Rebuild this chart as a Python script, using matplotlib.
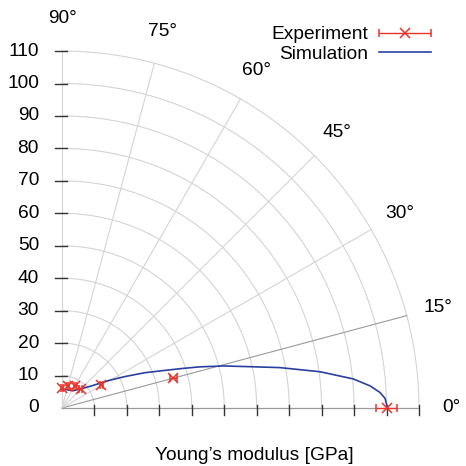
import numpy as np
import matplotlib
matplotlib.use("Agg")
import matplotlib.pyplot as plt
from matplotlib.container import ErrorbarContainer
from matplotlib.legend_handler import HandlerErrorbar

plt.rcParams['font.family'] = ['Liberation Sans', 'DejaVu Sans']

# ---- data ----
sim_theta_deg = [90, 81.8, 57.5, 43.2, 36.9, 30.7, 26.6, 23.1, 19.7, 18.1, 16.6,
                 14.6, 12.4, 10.5, 8.0, 5.7, 4.1, 2.8, 1.7, 0]
sim_r = [5.8, 5.8, 6.3, 8.9, 11.3, 16.5, 21.6, 27.7, 34.7, 39.3, 44.4,
         51.4, 59.3, 68.3, 80.3, 90.2, 95.2, 98.1, 99.6, 100.3]

exp_theta_deg = [0, 15, 30, 45, 60, 75, 90]
exp_r = [100.0, 35.5, 14.0, 8.1, 8.0, 7.0, 6.3]
exp_err = [3.2, 1.0, 0.4, 0.4, 0.4, 0.4, 0.4]

radial_ticks = [0, 10, 20, 30, 40, 50, 60, 70, 80, 90, 100, 110]
angle_ticks = [0, 15, 30, 45, 60, 75, 90]
xlabel = "Young\u2019s modulus [GPa]"

# ---- figure ----
W = 466
FS = 13.8
fig = plt.figure(figsize=(W / 100, W / 100), dpi=100)
ax = fig.add_axes([0, 0, 1, 1])
s = 3.245          # px per unit
ox, oy = 62, 408   # origin in px
ax.set_xlim(-ox / s, (W - ox) / s)
ax.set_ylim((oy - W) / s, oy / s)
ax.axis('off')

rmax = 110
grid_c = '#d4d4d4'
# arcs
t = np.linspace(0, np.pi / 2, 200)
for r in radial_ticks[1:]:
    ax.plot(r * np.cos(t), r * np.sin(t), color=grid_c, lw=0.8, zorder=1)
# spokes
for a in angle_ticks[1:-1]:
    ar = np.deg2rad(a)
    c = '#9a9a9a' if a == 15 else grid_c
    ax.plot([0, rmax * np.cos(ar)], [0, rmax * np.sin(ar)], color=c, lw=0.8, zorder=1)
# axes lines
ax.plot([0, 0], [0, rmax], color=grid_c, lw=0.8, zorder=1)
ax.plot([0, rmax], [0, 0], color='#9a9a9a', lw=0.9, zorder=1)

# ticks
tick_c = '#333333'
for r in radial_ticks[1:]:
    ax.plot([-7 / s, 5 / s], [r, r], color=tick_c, lw=1.0, zorder=2)
    ax.plot([r, r], [3 / s, -7 / s], color=tick_c, lw=1.0, zorder=2)
for r in radial_ticks:
    ax.text(-23 / s, r, str(r), ha='right', va='center', fontsize=FS)

# angle labels
for a in angle_ticks:
    ar = np.deg2rad(a)
    ax.text(120 * np.cos(ar), 120 * np.sin(ar), f"{a}\u00b0",
            ha='center', va='center', fontsize=FS)

# data
st = np.deg2rad(sim_theta_deg)
sr = np.array(sim_r)
sim_line, = ax.plot(sr * np.cos(st), sr * np.sin(st), color='#2a3fa0', lw=1.2,
                    zorder=4, label='Simulation')

et = np.deg2rad(exp_theta_deg)
er = np.array(exp_r)
eb = ax.errorbar(er * np.cos(et), er * np.sin(et), xerr=exp_err, fmt='x',
                 color='#e8352b', ecolor='#e8352b', mew=1.1, ms=7.5, elinewidth=1.0,
                 capsize=3, capthick=1.0, zorder=5, label='Experiment')

ax.text((254 - ox) / s, (oy - 456) / s, xlabel, ha='center', va='center', fontsize=FS)

HL = 2.7
leg = ax.legend(handles=[eb, sim_line], loc='upper right',
                bbox_to_anchor=(431 / W, 1 - 26 / W), frameon=False,
                markerfirst=False, fontsize=FS, handlelength=HL,
                handletextpad=0.6, labelspacing=0.12, borderaxespad=0, borderpad=0,
                handler_map={ErrorbarContainer: HandlerErrorbar(xerr_size=HL / 2)})

fig.savefig('out.png', dpi=100)
